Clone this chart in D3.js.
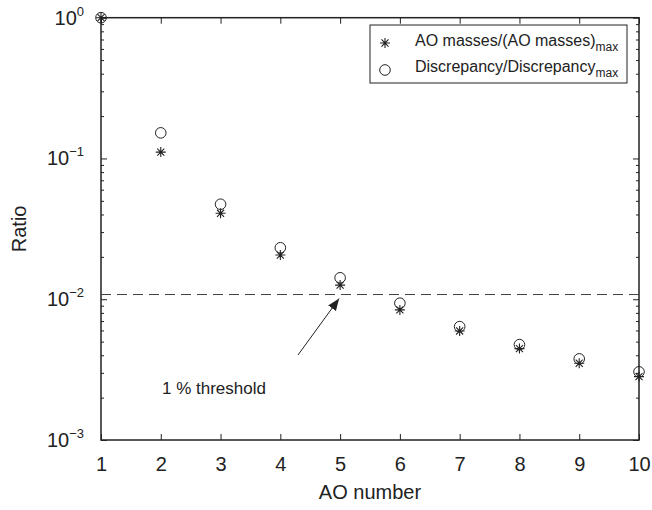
<!DOCTYPE html>
<html>
<head>
<meta charset="utf-8">
<script src="https://cdn.jsdelivr.net/npm/d3@7"></script>
<style>
  html, body { margin: 0; padding: 0; background: #fff; }
  svg { display: block; font-family: "Liberation Sans", Arial, Helvetica, sans-serif; }
</style>
</head>
<body>
<svg id="chart" width="652" height="510"></svg>
<script>
// AO index and the two normalised quantities per AO
const aoNumbers = [1, 2, 3, 4, 5, 6, 7, 8, 9, 10];
const massRatio = [1, 0.111, 0.0408, 0.0206, 0.0126, 0.0084, 0.00595, 0.00446, 0.00351, 0.00282];
const discrepancyRatio = [1, 0.152, 0.0473, 0.0232, 0.0142, 0.00937, 0.00639, 0.00476, 0.00377, 0.00305];
const thresholdValue = 0.0108;
const xTickLabels = ["1", "2", "3", "4", "5", "6", "7", "8", "9", "10"];
const yTickExponents = [0, -1, -2, -3];

const ink = "#222";
const svg = d3.select("#chart");
const plotLeft = 101, plotRight = 639, plotTop = 17.7, plotBottom = 440;
const tickFont = 20, legendFont = 16, noteFont = 17;

const x = d3.scaleLinear().domain([1, 10]).range([plotLeft, plotRight]);
const y = d3.scaleLog().domain([1e-3, 1]).range([plotBottom, plotTop]);

// minor log ticks (2..9 in each decade)
const minorTicks = [];
for (let e = -3; e < 0; e++) for (let m = 2; m <= 9; m++) minorTicks.push(m * Math.pow(10, e));
const majorTicks = yTickExponents.map(e => Math.pow(10, e));

function styleAxis(g) {
  g.select(".domain").remove();
  g.selectAll(".tick line").attr("stroke", ink).attr("stroke-width", 1);
}

// bottom axis with inward ticks and labels
svg.append("g").attr("transform", `translate(0,${plotBottom})`)
  .call(d3.axisBottom(x).tickValues(aoNumbers).tickSizeInner(-6).tickSizeOuter(0)
    .tickPadding(17).tickFormat((d, i) => xTickLabels[i]))
  .call(styleAxis)
  .call(g => g.selectAll("text").attr("font-size", tickFont).attr("fill", ink)
    .attr("font-family", "Liberation Sans, Arial, sans-serif"));

// top axis (ticks only)
svg.append("g").attr("transform", `translate(0,${plotTop})`)
  .call(d3.axisTop(x).tickValues(aoNumbers).tickSizeInner(-6).tickSizeOuter(0).tickFormat(""))
  .call(styleAxis);

// left axis: minor and major ticks
svg.append("g").attr("transform", `translate(${plotLeft},0)`)
  .call(d3.axisLeft(y).tickValues(minorTicks).tickSizeInner(-3).tickSizeOuter(0).tickFormat(""))
  .call(styleAxis);
svg.append("g").attr("transform", `translate(${plotLeft},0)`)
  .call(d3.axisLeft(y).tickValues(majorTicks).tickSizeInner(-6).tickSizeOuter(0).tickFormat(""))
  .call(styleAxis);

// right axis: minor and major ticks
svg.append("g").attr("transform", `translate(${plotRight},0)`)
  .call(d3.axisRight(y).tickValues(minorTicks).tickSizeInner(-3).tickSizeOuter(0).tickFormat(""))
  .call(styleAxis);
svg.append("g").attr("transform", `translate(${plotRight},0)`)
  .call(d3.axisRight(y).tickValues(majorTicks).tickSizeInner(-6).tickSizeOuter(0).tickFormat(""))
  .call(styleAxis);

// y tick labels as 10 with superscript exponent
yTickExponents.forEach(e => {
  const t = svg.append("text")
    .attr("x", plotLeft - 17).attr("y", y(Math.pow(10, e)) + 7)
    .attr("text-anchor", "end").attr("font-size", tickFont).attr("fill", ink);
  t.append("tspan").text("10");
  t.append("tspan").attr("dy", -9).attr("font-size", 13).text(e === 0 ? "0" : "\u2212" + Math.abs(e));
});

// plot frame
svg.append("rect").attr("x", plotLeft).attr("y", plotTop)
  .attr("width", plotRight - plotLeft).attr("height", plotBottom - plotTop)
  .attr("fill", "none").attr("stroke", ink).attr("stroke-width", 1.5);

// axis titles
svg.append("text").attr("x", (plotLeft + plotRight) / 2).attr("y", 499)
  .attr("text-anchor", "middle").attr("font-size", tickFont).attr("fill", ink).text("AO number");
svg.append("text").attr("transform", `translate(26,${(plotTop + plotBottom) / 2}) rotate(-90)`)
  .attr("text-anchor", "middle").attr("font-size", tickFont).attr("fill", ink).text("Ratio");

// 1 % threshold line
svg.append("line").attr("x1", plotLeft).attr("x2", plotRight)
  .attr("y1", y(thresholdValue)).attr("y2", y(thresholdValue))
  .attr("stroke", "#444").attr("stroke-width", 1).attr("stroke-dasharray", "10,6");

// asterisk marker path
const starR = 5;
function starPath(cx, cy) {
  let p = "";
  for (let k = 0; k < 4; k++) {
    const a = k * Math.PI / 4;
    const dx = starR * Math.cos(a), dy = starR * Math.sin(a);
    p += `M${cx - dx},${cy - dy}L${cx + dx},${cy + dy}`;
  }
  return p;
}

svg.append("g").selectAll("path").data(aoNumbers).join("path")
  .attr("d", (d, i) => starPath(x(d), y(massRatio[i])))
  .attr("stroke", ink).attr("stroke-width", 1.1).attr("fill", "none");

svg.append("g").selectAll("circle").data(aoNumbers).join("circle")
  .attr("cx", d => x(d)).attr("cy", (d, i) => y(discrepancyRatio[i]))
  .attr("r", 5.3).attr("fill", "none").attr("stroke", ink).attr("stroke-width", 1);

// annotation arrow
const defs = svg.append("defs");
defs.append("marker").attr("id", "arrowHead").attr("viewBox", "0 0 10 10")
  .attr("refX", 10).attr("refY", 5).attr("markerWidth", 12).attr("markerHeight", 12)
  .attr("markerUnits", "userSpaceOnUse").attr("orient", "auto")
  .append("path").attr("d", "M0,1L10,5L0,9Z").attr("fill", ink);
svg.append("line")
  .attr("x1", 298).attr("y1", 355)
  .attr("x2", x(5) - 1).attr("y2", y(thresholdValue) + 4)
  .attr("stroke", ink).attr("stroke-width", 1).attr("marker-end", "url(#arrowHead)");
svg.append("text").attr("x", 162).attr("y", 394)
  .attr("font-size", noteFont).attr("fill", ink).text("1 % threshold");

// legend
const lg = svg.append("g");
lg.append("rect").attr("x", 370).attr("y", 25).attr("width", 257).attr("height", 58)
  .attr("fill", "#fff").attr("stroke", ink).attr("stroke-width", 1);
lg.append("path").attr("d", starPath(385, 43)).attr("stroke", ink).attr("stroke-width", 1.1);
lg.append("circle").attr("cx", 385).attr("cy", 70).attr("r", 5.3)
  .attr("fill", "none").attr("stroke", ink).attr("stroke-width", 1);
const l1 = lg.append("text").attr("x", 415).attr("y", 46).attr("font-size", legendFont).attr("fill", ink);
l1.append("tspan").text("AO masses/(AO masses)");
l1.append("tspan").attr("dy", 5).attr("font-size", 12).text("max");
const l2 = lg.append("text").attr("x", 415).attr("y", 72).attr("font-size", legendFont).attr("fill", ink);
l2.append("tspan").text("Discrepancy/Discrepancy");
l2.append("tspan").attr("dy", 5).attr("font-size", 12).text("max");
</script>
</body>
</html>
